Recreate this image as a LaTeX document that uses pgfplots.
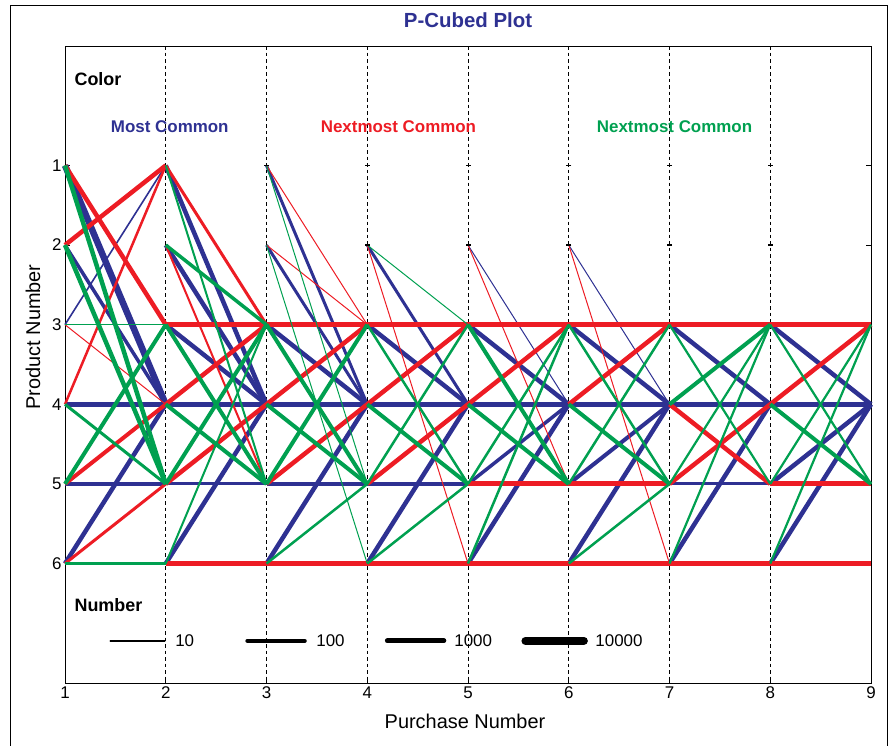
\documentclass[border=0pt]{standalone}
\usepackage{pgfplots}
\pgfplotsset{compat=1.18}
\usepackage{fontspec}
\setmainfont{Liberation Sans}
\definecolor{pb}{RGB}{46,49,146}
\definecolor{pr}{RGB}{237,28,36}
\definecolor{pg}{RGB}{0,160,80}
% segment: colour, width, x1, y1, x2, y2
\newcommand{\seg}[6]{\addplot[#1, line width=#2, line cap=butt, forget plot] coordinates {(#3,#4) (#5,#6)};}
\newcommand{\legseg}[6]{\addplot[#1, line width=#2, line cap=round, forget plot] coordinates {(#3,#4) (#5,#6)};}
\begin{document}
\begin{tikzpicture}
\useasboundingbox (0,0) rectangle (889bp,746bp);
\draw[black, line width=1bp] (10bp,-5bp) rectangle (887.5bp,740bp);
\node[font=\bfseries\fontsize{20.5}{22}\selectfont, text=pb] at (468bp,726bp) {P-Cubed Plot};
\node[font=\fontsize{20}{22}\selectfont] at (465bp,25bp) {Purchase Number};
\node[font=\fontsize{20}{22}\selectfont, rotate=90] at (33bp,409bp) {Product Number};
\begin{axis}[
  at={(65bp,63bp)}, anchor=south west,
  scale only axis, width=806bp, height=637bp,
  xmin=1, xmax=9, ymin=-0.5, ymax=7.5, y dir=reverse,
  xtick={1,...,9}, ytick={1,...,6},
  xmajorgrids, grid style={black, line width=1bp, dash pattern=on 3.5bp off 3bp},
  tick align=inside, major tick length=5bp,
  tick style={black, line width=1bp},
  axis line style={black, line width=1bp},
  xtick pos=bottom,
  ticklabel style={font=\fontsize{17}{19}\selectfont},
  /pgf/number format/assume math mode=true,
  clip=false,
]
% ---- interval 1 -> 2
\seg{pb}{6.5bp}{1}{1}{2}{4}
\seg{pb}{3.5bp}{1}{2}{2}{4}
\seg{pb}{1.6bp}{1}{3}{2}{1}
\seg{pb}{5bp}{1}{4}{2}{4}
\seg{pb}{4.5bp}{1}{5}{2}{5}
\seg{pb}{4.5bp}{1}{6}{2}{4}
% ---- interval 2 -> 3
\seg{pb}{4.5bp}{2}{1}{3}{4}
\seg{pb}{4.5bp}{2}{2}{3}{4}
\seg{pb}{4.5bp}{2}{3}{3}{4}
\seg{pb}{5.5bp}{2}{4}{3}{4}
\seg{pb}{3bp}{2}{5}{3}{5}
\seg{pb}{4.5bp}{2}{6}{3}{4}
% ---- interval 3 -> 4
\seg{pb}{3bp}{3}{1}{4}{4}
\seg{pb}{3bp}{3}{2}{4}{4}
\seg{pb}{4.5bp}{3}{3}{4}{4}
\seg{pb}{5.5bp}{3}{4}{4}{4}
\seg{pb}{3.5bp}{3}{5}{4}{5}
\seg{pb}{4.5bp}{3}{6}{4}{4}
% ---- interval 4 -> 5
\seg{pb}{3bp}{4}{2}{5}{4}
\seg{pb}{4.5bp}{4}{3}{5}{4}
\seg{pb}{5.5bp}{4}{4}{5}{4}
\seg{pb}{3.5bp}{4}{5}{5}{5}
\seg{pb}{4.5bp}{4}{6}{5}{4}
% ---- interval 5 -> 6
\seg{pb}{1bp}{5}{2}{6}{4}
\seg{pb}{4.5bp}{5}{3}{6}{4}
\seg{pb}{5.5bp}{5}{4}{6}{4}
\seg{pb}{3.5bp}{5}{5}{6}{4}
\seg{pb}{4.5bp}{5}{6}{6}{4}
% ---- interval 6 -> 7
\seg{pb}{1bp}{6}{2}{7}{4}
\seg{pb}{4.5bp}{6}{3}{7}{4}
\seg{pb}{5.5bp}{6}{4}{7}{4}
\seg{pb}{4bp}{6}{5}{7}{4}
\seg{pb}{4.5bp}{6}{6}{7}{4}
% ---- interval 7 -> 8
\seg{pb}{4.5bp}{7}{3}{8}{4}
\seg{pb}{5.5bp}{7}{4}{8}{4}
\seg{pb}{3bp}{7}{5}{8}{5}
\seg{pb}{4.5bp}{7}{6}{8}{4}
% ---- interval 8 -> 9
\seg{pb}{4.5bp}{8}{3}{9}{4}
\seg{pb}{5.5bp}{8}{4}{9}{4}
\seg{pb}{4.5bp}{8}{5}{9}{4}
\seg{pb}{4.5bp}{8}{6}{9}{4}
% ===== red
\seg{pr}{4.5bp}{1}{1}{2}{3}
\seg{pr}{4.5bp}{1}{2}{2}{1}
\seg{pr}{1bp}{1}{3}{2}{4}
\seg{pr}{2.5bp}{1}{4}{2}{1}
\seg{pr}{4bp}{1}{5}{2}{4}
\seg{pr}{3bp}{1}{6}{2}{5}
\seg{pr}{3bp}{2}{1}{3}{3}
\seg{pr}{2bp}{2}{2}{3}{5}
\seg{pr}{5.5bp}{2}{3}{3}{3}
\seg{pr}{4.5bp}{2}{4}{3}{3}
\seg{pr}{4.5bp}{2}{5}{3}{4}
\seg{pr}{5bp}{2}{6}{3}{6}
\seg{pr}{1bp}{3}{1}{4}{3}
\seg{pr}{1bp}{3}{2}{4}{3}
\seg{pr}{5.5bp}{3}{3}{4}{3}
\seg{pr}{4.5bp}{3}{4}{4}{3}
\seg{pr}{4.5bp}{3}{5}{4}{4}
\seg{pr}{5bp}{3}{6}{4}{6}
\seg{pr}{1bp}{4}{2}{5}{6}
\seg{pr}{5.5bp}{4}{3}{5}{3}
\seg{pr}{4.5bp}{4}{4}{5}{3}
\seg{pr}{4.5bp}{4}{5}{5}{4}
\seg{pr}{5bp}{4}{6}{5}{6}
\seg{pr}{1bp}{5}{2}{6}{5}
\seg{pr}{5.5bp}{5}{3}{6}{3}
\seg{pr}{4.5bp}{5}{4}{6}{3}
\seg{pr}{5bp}{5}{5}{6}{5}
\seg{pr}{5bp}{5}{6}{6}{6}
\seg{pr}{1bp}{6}{2}{7}{6}
\seg{pr}{5.5bp}{6}{3}{7}{3}
\seg{pr}{4.5bp}{6}{4}{7}{3}
\seg{pr}{5bp}{6}{5}{7}{5}
\seg{pr}{5bp}{6}{6}{7}{6}
\seg{pr}{5.5bp}{7}{3}{8}{3}
\seg{pr}{4.5bp}{7}{4}{8}{5}
\seg{pr}{4.5bp}{7}{5}{8}{4}
\seg{pr}{5bp}{7}{6}{8}{6}
\seg{pr}{5.5bp}{8}{3}{9}{3}
\seg{pr}{4.5bp}{8}{4}{9}{3}
\seg{pr}{5bp}{8}{5}{9}{5}
\seg{pr}{5bp}{8}{6}{9}{6}
% ===== green
\seg{pg}{4.5bp}{1}{1}{2}{5}
\seg{pg}{4.5bp}{1}{2}{2}{5}
\seg{pg}{1.2bp}{1}{3}{2}{3}
\seg{pg}{3bp}{1}{4}{2}{5}
\seg{pg}{4bp}{1}{5}{2}{3}
\seg{pg}{3bp}{1}{6}{2}{6}
\seg{pg}{2bp}{2}{1}{3}{5}
\seg{pg}{3.5bp}{2}{2}{3}{3}
\seg{pg}{4bp}{2}{3}{3}{5}
\seg{pg}{4bp}{2}{4}{3}{5}
\seg{pg}{4bp}{2}{5}{3}{3}
\seg{pg}{2bp}{2}{6}{3}{3}
\seg{pg}{1bp}{3}{1}{4}{5}
\seg{pg}{1bp}{3}{2}{4}{6}
\seg{pg}{4bp}{3}{3}{4}{5}
\seg{pg}{4bp}{3}{4}{4}{5}
\seg{pg}{4bp}{3}{5}{4}{3}
\seg{pg}{2.5bp}{3}{6}{4}{5}
\seg{pg}{1bp}{4}{2}{5}{3}
\seg{pg}{2.5bp}{4}{3}{5}{5}
\seg{pg}{4bp}{4}{4}{5}{5}
\seg{pg}{2.5bp}{4}{5}{5}{3}
\seg{pg}{2.5bp}{4}{6}{5}{5}
\seg{pg}{4bp}{5}{3}{6}{5}
\seg{pg}{4bp}{5}{4}{6}{5}
\seg{pg}{2.5bp}{5}{5}{6}{3}
\seg{pg}{2.5bp}{5}{6}{6}{3}
\seg{pg}{2.5bp}{6}{3}{7}{5}
\seg{pg}{4bp}{6}{4}{7}{5}
\seg{pg}{2.5bp}{6}{5}{7}{3}
\seg{pg}{2.5bp}{6}{6}{7}{5}
\seg{pg}{2.2bp}{7}{3}{8}{5}
\seg{pg}{4bp}{7}{4}{8}{3}
\seg{pg}{2.2bp}{7}{5}{8}{3}
\seg{pg}{2.2bp}{7}{6}{8}{3}
\seg{pg}{2.2bp}{8}{3}{9}{5}
\seg{pg}{4bp}{8}{4}{9}{5}
\seg{pg}{2.2bp}{8}{5}{9}{3}
\seg{pg}{2.2bp}{8}{6}{9}{3}
% small marks at empty products
\addplot[only marks, mark=-, mark size=2.5bp, black, line width=1.2bp, forget plot]
  coordinates {(3,1) (4,1) (5,1) (6,1) (7,1) (8,1) (4,2) (5,2) (6,2) (7,2) (8,2)};
% ---- Number legend
\legseg{black}{1.6bp}{1.45}{6.97}{1.99}{6.97}
\legseg{black}{4bp}{2.81}{6.97}{3.38}{6.97}
\legseg{black}{5bp}{4.2}{6.97}{4.76}{6.97}
\legseg{black}{8bp}{5.57}{6.97}{6.15}{6.97}
\node[anchor=west, font=\fontsize{17}{19}\selectfont] at (axis cs:2.06,6.97) {10};
\node[anchor=west, font=\fontsize{17}{19}\selectfont] at (axis cs:3.46,6.97) {100};
\node[anchor=west, font=\fontsize{17}{19}\selectfont] at (axis cs:4.83,6.97) {1000};
\node[anchor=west, font=\fontsize{17}{19}\selectfont] at (axis cs:6.23,6.97) {10000};
% ---- texts
\node[anchor=west, font=\bfseries\fontsize{18}{20}\selectfont] at (axis cs:1.06,-0.09) {Color};
\node[anchor=west, font=\bfseries\fontsize{18}{20}\selectfont] at (axis cs:1.06,6.52) {Number};
\node[font=\bfseries\fontsize{17}{19}\selectfont, text=pb] at (axis cs:2.04,0.51) {Most Common};
\node[font=\bfseries\fontsize{17}{19}\selectfont, text=pr] at (axis cs:4.31,0.51) {Nextmost Common};
\node[font=\bfseries\fontsize{17}{19}\selectfont, text=pg] at (axis cs:7.05,0.51) {Nextmost Common};
\end{axis}
\end{tikzpicture}
\end{document}
